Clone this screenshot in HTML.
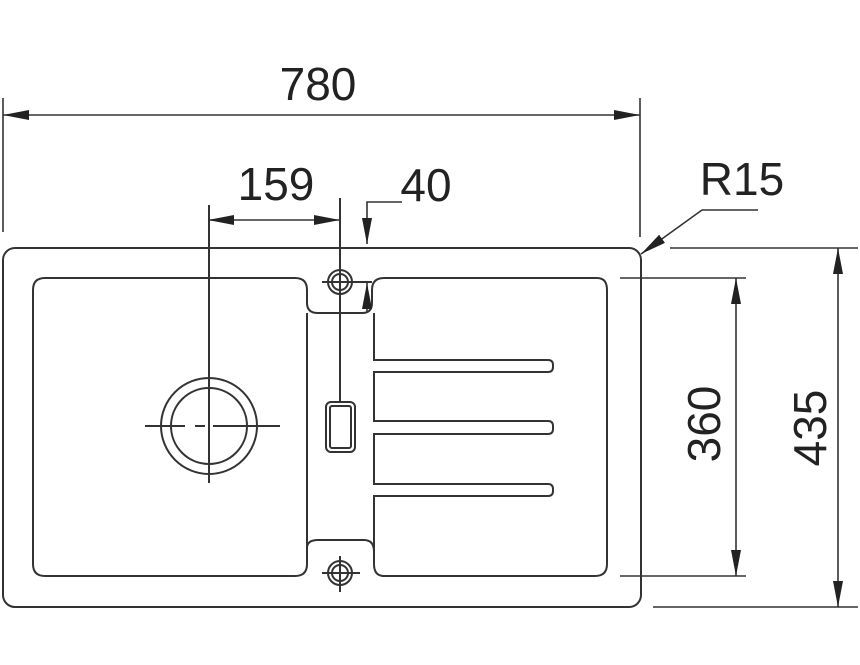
<!DOCTYPE html>
<html><head><style>body{margin:0;background:#fff}svg{display:block}</style></head>
<body>
<svg width="860" height="665" viewBox="0 0 860 665" xmlns="http://www.w3.org/2000/svg">
<defs>
<marker id="a" viewBox="0 0 26 10" refX="26" refY="5" markerWidth="26" markerHeight="10" markerUnits="userSpaceOnUse" orient="auto-start-reverse"><path d="M0,0 L26,5 L0,10 Z" fill="#222"/></marker>
</defs>
<g fill="none" stroke="#333" stroke-width="2">
<rect x="3" y="248" width="638" height="359" rx="12"/>
<path d="M45,278 H295 Q307,278 307,290 V303 Q307,313 318,313 H362 Q372,313 372,303 V290 Q372,278 384,278 H597 Q607,278 607,290 V564 Q607,576 595,576 H384 Q374,576 374,564 V496 H548 Q553,496 553,491 V489 Q553,484 548,484 H374 V434 H548 Q553,434 553,429 V426 Q553,421 548,421 H374 V372 H548 Q553,372 553,367 V365 Q553,360 548,360 H374 V313"/>
<path d="M307,313 V548 Q307,540 318,540 H364 Q374,540 374,552 V564"/>
<path d="M307,540 V564 Q307,576 295,576 H45 Q33,576 33,564 V290 Q33,278 45,278"/>
<circle cx="209" cy="426" r="48"/>
<circle cx="209" cy="426" r="38"/>
<path d="M145,426 H185 M195,426 H205 M213,426 H280 M209,205 V483"/>
<circle cx="340" cy="282" r="12"/><circle cx="340" cy="282" r="8"/>
<path d="M322,282 H372"/>
<circle cx="340" cy="573" r="12"/><circle cx="340" cy="573" r="8"/>
<path d="M322,573 H360 M340,556 V592"/>
<path d="M340,198 V401"/>
<rect x="326" y="402" width="29" height="50" rx="5"/>
<rect x="330" y="406" width="21" height="42" rx="2"/>
</g>
<g fill="none" stroke="#333" stroke-width="1.6">
<path d="M3,98 V232 M640,98 V237"/>
<path d="M3,115 H640" marker-start="url(#a)" marker-end="url(#a)"/>
<path d="M208,220 H340" marker-start="url(#a)" marker-end="url(#a)"/>
<path d="M402,202 H367 V244" marker-end="url(#a)"/>
<path d="M367,312 V283" marker-end="url(#a)"/>
<path d="M758,210 H702 L641,254" marker-end="url(#a)"/>
<path d="M620,278 H746 M620,576 H746"/>
<path d="M736,278 V576" marker-start="url(#a)" marker-end="url(#a)"/>
<path d="M670,248 H858 M653,607 H858"/>
<path d="M838,248 V607" marker-start="url(#a)" marker-end="url(#a)"/>
</g>
<g font-family="Liberation Sans, sans-serif" font-size="46" fill="#222" text-anchor="middle">
<text x="318" y="100">780</text>
<text x="276" y="200">159</text>
<text x="426" y="201">40</text>
<text x="742" y="195">R15</text>
<text transform="translate(720,424) rotate(-90)">360</text>
<text transform="translate(826,428) rotate(-90)">435</text>
</g>
</svg>
</body></html>
